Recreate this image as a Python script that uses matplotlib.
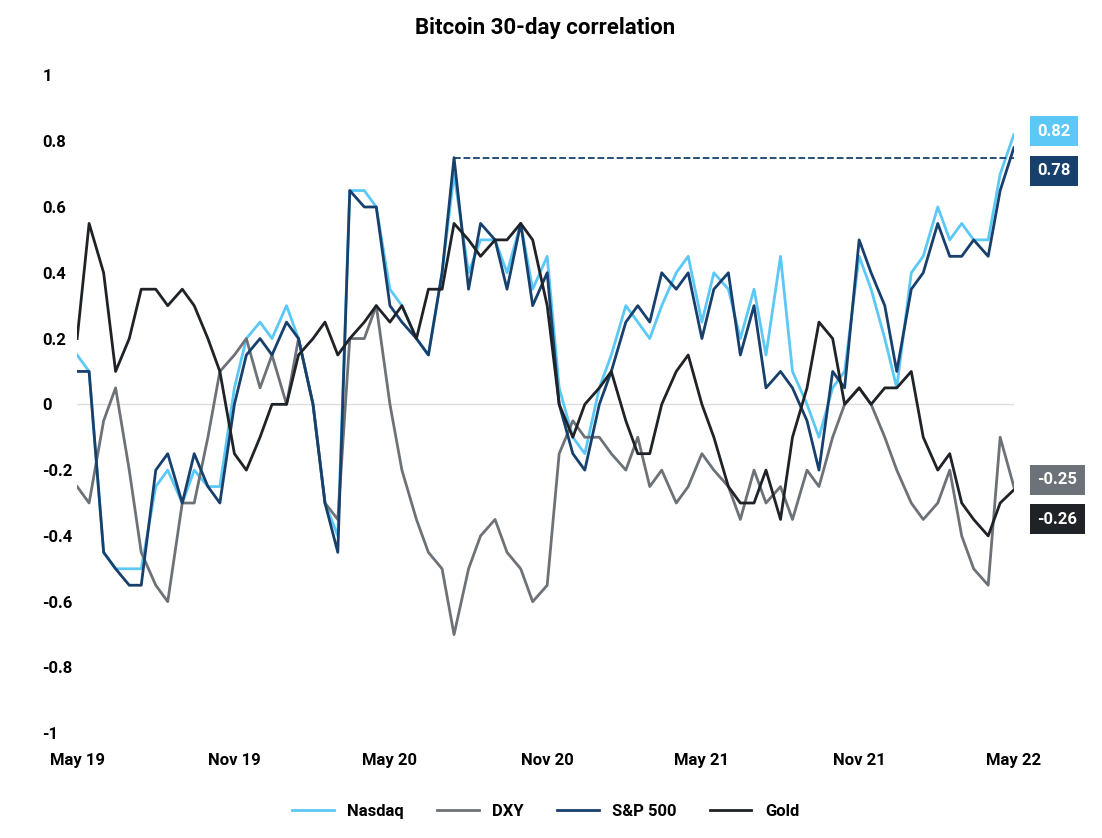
import matplotlib.pyplot as plt
import numpy as np
import pandas as pd

# semi-monthly samples, May 2019 -> May 2022
dates = pd.date_range('2019-05-01', periods=73, freq='SMS')

sp500 = [0.1, 0.1, -0.45, -0.5, -0.55, -0.55, -0.2, -0.15, -0.3, -0.15, -0.25, -0.3,
         0.0, 0.15, 0.2, 0.15, 0.25, 0.2, 0.0, -0.3, -0.45, 0.65, 0.6, 0.6,
         0.3, 0.25, 0.2, 0.15, 0.4, 0.75, 0.35, 0.55, 0.5, 0.35, 0.55, 0.3,
         0.4, 0.0, -0.15, -0.2, 0.0, 0.1, 0.25, 0.3, 0.25, 0.4, 0.35, 0.4,
         0.2, 0.35, 0.4, 0.15, 0.3, 0.05, 0.1, 0.05, -0.05, -0.2, 0.1, 0.05,
         0.5, 0.4, 0.3, 0.1, 0.35, 0.4, 0.55, 0.45, 0.45, 0.5, 0.45, 0.65, 0.78]
nasdaq = [0.15, 0.1, -0.45, -0.5, -0.5, -0.5, -0.25, -0.2, -0.3, -0.2, -0.25, -0.25,
          0.05, 0.2, 0.25, 0.2, 0.3, 0.2, 0.0, -0.3, -0.4, 0.65, 0.65, 0.6,
          0.35, 0.3, 0.2, 0.15, 0.4, 0.7, 0.4, 0.5, 0.5, 0.4, 0.55, 0.35,
          0.45, 0.05, -0.1, -0.15, 0.05, 0.15, 0.3, 0.25, 0.2, 0.3, 0.4, 0.45,
          0.25, 0.4, 0.35, 0.2, 0.35, 0.15, 0.45, 0.1, 0.0, -0.1, 0.05, 0.1,
          0.45, 0.35, 0.2, 0.05, 0.4, 0.45, 0.6, 0.5, 0.55, 0.5, 0.5, 0.7, 0.82]
dxy = [-0.25, -0.3, -0.05, 0.05, -0.2, -0.45, -0.55, -0.6, -0.3, -0.3, -0.1, 0.1,
       0.15, 0.2, 0.05, 0.15, 0.0, 0.2, 0.0, -0.3, -0.35, 0.2, 0.2, 0.3,
       0.0, -0.2, -0.35, -0.45, -0.5, -0.7, -0.5, -0.4, -0.35, -0.45, -0.5, -0.6,
       -0.55, -0.15, -0.05, -0.1, -0.1, -0.15, -0.2, -0.1, -0.25, -0.2, -0.3, -0.25,
       -0.15, -0.2, -0.25, -0.35, -0.2, -0.3, -0.25, -0.35, -0.2, -0.25, -0.1, 0.0,
       0.05, 0.0, -0.1, -0.2, -0.3, -0.35, -0.3, -0.2, -0.4, -0.5, -0.55, -0.1, -0.25]
gold = [0.2, 0.55, 0.4, 0.1, 0.2, 0.35, 0.35, 0.3, 0.35, 0.3, 0.2, 0.1,
        -0.15, -0.2, -0.1, 0.0, 0.0, 0.15, 0.2, 0.25, 0.15, 0.2, 0.25, 0.3,
        0.25, 0.3, 0.2, 0.35, 0.35, 0.55, 0.5, 0.45, 0.5, 0.5, 0.55, 0.5,
        0.3, 0.0, -0.1, 0.0, 0.05, 0.1, -0.05, -0.15, -0.15, 0.0, 0.1, 0.15,
        0.0, -0.1, -0.25, -0.3, -0.3, -0.2, -0.35, -0.1, 0.05, 0.25, 0.2, 0.0,
        0.05, 0.0, 0.05, 0.05, 0.1, -0.1, -0.2, -0.15, -0.3, -0.35, -0.4, -0.3, -0.26]

tick_dates = pd.to_datetime(['2019-05-01', '2019-11-01', '2020-05-01', '2020-11-01',
                             '2021-05-01', '2021-11-01', '2022-05-01'])
tick_labels = ['May 19', 'Nov 19', 'May 20', 'Nov 20', 'May 21', 'Nov 21', 'May 22']

plt.rcParams['font.family'] = ['Roboto', 'DejaVu Sans']
fig, ax = plt.subplots(figsize=(11.02, 8.38), dpi=100)
fig.subplots_adjust(left=0.07, right=0.92, top=0.91, bottom=0.125)

ax.axhline(0, color='#dddddd', lw=1, zorder=0)
ax.plot(dates, nasdaq, color='#5bc8f5', lw=2, label='Nasdaq')
ax.plot(dates, dxy, color='#6d7278', lw=2, label='DXY')
ax.plot(dates, sp500, color='#17406d', lw=2, label='S&P 500')
ax.plot(dates, gold, color='#1f2226', lw=2, label='Gold')

# dashed line from the 2020 high to the latest point
peak = int(np.argmax(sp500[:-3]))
ax.plot([dates[peak], dates[-1]], [sp500[peak], sp500[peak]], ls='--', color='#17406d', lw=1.3)

boxes = [(0.82, 0.83, '#5bc8f5'), (0.78, 0.71, '#17406d'), (-0.25, -0.23, '#6d7278'), (-0.26, -0.35, '#1f2226')]
for val, ypos, col in boxes:
    ax.annotate(f'{val:.2f}', xy=(1.025, ypos), xycoords=('axes fraction', 'data'),
                va='center', ha='left', color='white', fontsize=12, fontweight='bold',
                bbox=dict(boxstyle='square,pad=0.45', fc=col, ec='none'))

ax.set_ylim(-1, 1)
ax.set_yticks(np.arange(-1, 1.01, 0.2))
ax.set_yticklabels(['-1', '-0.8', '-0.6', '-0.4', '-0.2', '0', '0.2', '0.4', '0.6', '0.8', '1'])
ax.set_xlim(dates[0], dates[-1])
ax.set_xticks(tick_dates)
ax.set_xticklabels(tick_labels)
ax.tick_params(axis='y', length=0, labelsize=12, pad=25)
ax.tick_params(axis='x', length=0, labelsize=12, pad=14)
for lab in ax.get_yticklabels():
    lab.set_horizontalalignment('left')
for lab in ax.get_xticklabels() + ax.get_yticklabels():
    lab.set_fontweight('bold')
for s in ax.spines.values():
    s.set_visible(False)

ax.set_title('Bitcoin 30-day correlation', fontsize=16, fontweight='bold', pad=30)
ax.legend(loc='upper center', bbox_to_anchor=(0.5, -0.085), ncol=4, frameon=False,
          prop={'weight': 'bold', 'size': 12}, handlelength=2.5)

fig.savefig('out.png')
